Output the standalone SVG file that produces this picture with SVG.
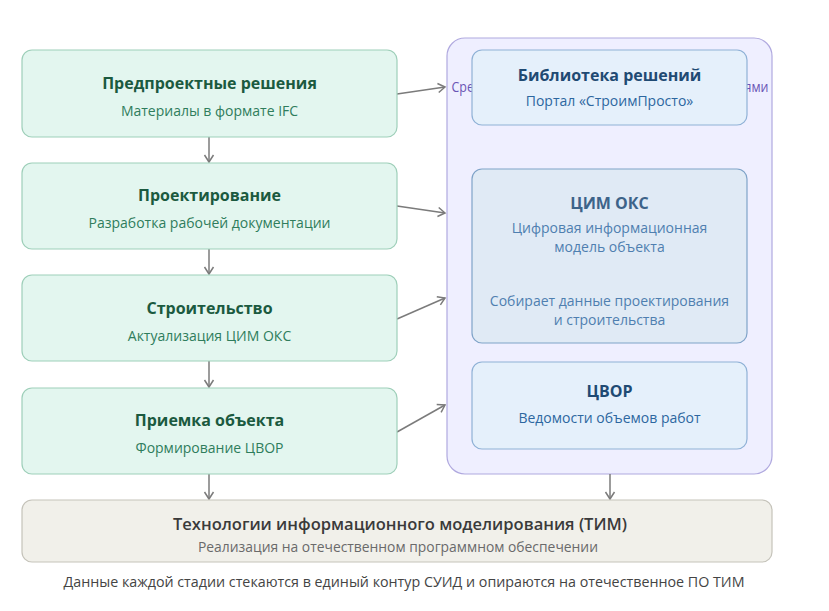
<svg xmlns="http://www.w3.org/2000/svg" width="829" height="611" viewBox="0 0 829 611">
<style>
.stage rect{fill:#e3f6ef;stroke:#9ecfb9;stroke-width:1.2}
.stage .t{font:bold 16px "Open Sans","Noto Sans",sans-serif;fill:#1b5a3f;text-anchor:middle}
.stage .s{font:14px "Open Sans","Noto Sans",sans-serif;fill:#2f7d5c;text-anchor:middle}
.blue rect{fill:#e5f0fb;stroke:#8fb1d6;stroke-width:1.2}
.blue .t{font:bold 16px "Open Sans","Noto Sans",sans-serif;fill:#1f4a73;text-anchor:middle}
.blue .s{font:14px "Open Sans","Noto Sans",sans-serif;fill:#2d67a0;text-anchor:middle}
.cim rect{fill:#e0eaf5;stroke:#7fa3c8}
.cim .t{fill:#3d6389}
.cim .s{fill:#4f7fb0}
.conn{fill:none;stroke:#7b7b7b;stroke-width:1.5}
</style>
<defs>
<marker id="ah" markerWidth="12" markerHeight="12" refX="9" refY="6" orient="auto" markerUnits="userSpaceOnUse">
<path d="M2,1.5 L9,6 L2,10.5" fill="none" stroke="#7b7b7b" stroke-width="1.5"/>
</marker>
</defs>
<rect width="829" height="611" fill="#ffffff"/>

<g id="cluster">
<rect x="447" y="38" width="325" height="436" rx="18" fill="#efefff" stroke="#b0a9df" stroke-width="1.2"/>
<text x="610" y="92" text-anchor="middle" textLength="317" lengthAdjust="spacingAndGlyphs" style="font:14px 'Open Sans','Noto Sans',sans-serif;fill:#6a55b5">Среда общих данных СУИД с цифровыми моделями</text>
</g>

<g id="connectors">
<line class="conn" x1="209" y1="137" x2="209" y2="162" marker-end="url(#ah)"/>
<line class="conn" x1="209" y1="249" x2="209" y2="274" marker-end="url(#ah)"/>
<line class="conn" x1="209" y1="361" x2="209" y2="387" marker-end="url(#ah)"/>
<line class="conn" x1="209" y1="474" x2="209" y2="499" marker-end="url(#ah)"/>
<line class="conn" x1="610" y1="474" x2="610" y2="499" marker-end="url(#ah)"/>
<line class="conn" x1="397" y1="94" x2="445" y2="87" marker-end="url(#ah)"/>
<line class="conn" x1="397" y1="206" x2="445" y2="213" marker-end="url(#ah)"/>
<line class="conn" x1="397" y1="319" x2="445" y2="298" marker-end="url(#ah)"/>
<line class="conn" x1="397" y1="432" x2="445" y2="405" marker-end="url(#ah)"/>
</g>

<g id="pre" class="stage">
<rect x="22" y="50" width="375" height="87" rx="10"/>
<text class="t" x="209.5" y="89">Предпроектные решения</text>
<text class="s" x="209.5" y="116">Материалы в формате IFC</text>
</g>
<g id="design" class="stage">
<rect x="22" y="163" width="375" height="86" rx="10"/>
<text class="t" x="209.5" y="201">Проектирование</text>
<text class="s" x="209.5" y="228">Разработка рабочей документации</text>
</g>
<g id="build" class="stage">
<rect x="22" y="275" width="375" height="86" rx="10"/>
<text class="t" x="209.5" y="314">Строительство</text>
<text class="s" x="209.5" y="341">Актуализация ЦИМ ОКС</text>
</g>
<g id="accept" class="stage">
<rect x="22" y="388" width="375" height="86" rx="10"/>
<text class="t" x="209.5" y="426">Приемка объекта</text>
<text class="s" x="209.5" y="453">Формирование ЦВОР</text>
</g>

<g id="library" class="blue">
<rect x="472" y="50" width="275" height="75" rx="10"/>
<text class="t" x="609.5" y="81">Библиотека решений</text>
<text class="s" x="609.5" y="106">Портал «СтроимПросто»</text>
</g>
<g id="cim" class="blue cim">
<rect x="472" y="169" width="275" height="174" rx="10"/>
<text class="t" x="609.5" y="209">ЦИМ ОКС</text>
<text class="s" x="609.5" y="233">Цифровая информационная</text>
<text class="s" x="609.5" y="252">модель объекта</text>
<text class="s" x="609.5" y="306">Собирает данные проектирования</text>
<text class="s" x="609.5" y="325">и строительства</text>
</g>
<g id="cvor" class="blue">
<rect x="472" y="362" width="275" height="87" rx="10"/>
<text class="t" x="609.5" y="397">ЦВОР</text>
<text class="s" x="609.5" y="423">Ведомости объемов работ</text>
</g>

<g id="tim">
<rect x="22" y="500" width="750" height="62" rx="10" fill="#f1f0ea" stroke="#c5c3ba" stroke-width="1.2"/>
<text x="400" y="530" text-anchor="middle" textLength="454" lengthAdjust="spacingAndGlyphs" style="font:600 16px 'Open Sans','Noto Sans',sans-serif;fill:#3a3a3a">Технологии информационного моделирования (ТИМ)</text>
<text x="398" y="552" text-anchor="middle" textLength="400" lengthAdjust="spacingAndGlyphs" style="font:14px 'Open Sans','Noto Sans',sans-serif;fill:#6a6a6a">Реализация на отечественном программном обеспечении</text>
</g>

<text x="404" y="587" text-anchor="middle" textLength="681" lengthAdjust="spacingAndGlyphs" style="font:14px 'Open Sans','Noto Sans',sans-serif;fill:#444">Данные каждой стадии стекаются в единый контур СУИД и опираются на отечественное ПО ТИМ</text>
</svg>
